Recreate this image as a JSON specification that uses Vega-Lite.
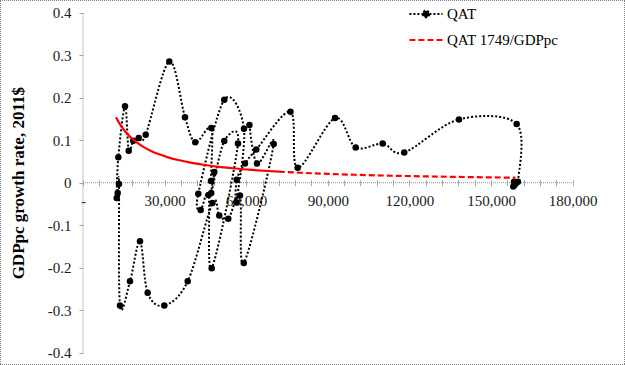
{
  "$schema": "https://vega.github.io/schema/vega-lite/v6.json",
  "width": 625,
  "height": 365,
  "autosize": {"type": "none"},
  "padding": 0,
  "background": "white",
  "config": {
    "view": {"stroke": "#7f7f7f", "strokeDash": [1, 1], "strokeWidth": 2},
    "font": "Liberation Serif",
    "axis": {"grid": false}
  },
  "datasets": {
    "qat": [
      {"i": 1, "g": 61200, "r": 0.136},
      {"i": 2, "g": 63960, "r": 0.045},
      {"i": 3, "g": 70100, "r": 0.091},
      {"i": 4, "g": 59110, "r": -0.189},
      {"i": 5, "g": 57710, "r": -0.030},
      {"i": 6, "g": 53410, "r": -0.085},
      {"i": 7, "g": 50100, "r": -0.077},
      {"i": 8, "g": 47600, "r": -0.048},
      {"i": 9, "g": 38490, "r": -0.232},
      {"i": 10, "g": 29890, "r": -0.289},
      {"i": 11, "g": 23780, "r": -0.259},
      {"i": 12, "g": 20950, "r": -0.138},
      {"i": 13, "g": 17280, "r": -0.232},
      {"i": 14, "g": 13600, "r": -0.289},
      {"i": 15, "g": 13230, "r": -0.003},
      {"i": 16, "g": 12760, "r": -0.024},
      {"i": 17, "g": 12390, "r": -0.036},
      {"i": 18, "g": 12980, "r": 0.060},
      {"i": 19, "g": 15440, "r": 0.180},
      {"i": 20, "g": 16800, "r": 0.075},
      {"i": 21, "g": 18490, "r": 0.099},
      {"i": 22, "g": 20480, "r": 0.105},
      {"i": 23, "g": 23050, "r": 0.113},
      {"i": 24, "g": 31720, "r": 0.285},
      {"i": 25, "g": 37500, "r": 0.154},
      {"i": 26, "g": 41280, "r": 0.095},
      {"i": 27, "g": 47160, "r": 0.129},
      {"i": 28, "g": 47050, "r": 0.004},
      {"i": 29, "g": 48270, "r": 0.025},
      {"i": 30, "g": 47160, "r": -0.024},
      {"i": 31, "g": 51940, "r": 0.098},
      {"i": 32, "g": 56980, "r": 0.092},
      {"i": 33, "g": 47310, "r": -0.201},
      {"i": 34, "g": 46170, "r": -0.029},
      {"i": 35, "g": 43270, "r": -0.064},
      {"i": 36, "g": 42380, "r": -0.026},
      {"i": 37, "g": 51940, "r": 0.195},
      {"i": 38, "g": 59180, "r": 0.127},
      {"i": 39, "g": 56350, "r": -0.046},
      {"i": 40, "g": 56500, "r": 0.007},
      {"i": 41, "g": 59550, "r": 0.045},
      {"i": 42, "g": 63700, "r": 0.078},
      {"i": 43, "g": 76280, "r": 0.167},
      {"i": 44, "g": 78920, "r": 0.035},
      {"i": 45, "g": 92640, "r": 0.152},
      {"i": 46, "g": 100250, "r": 0.083},
      {"i": 47, "g": 110170, "r": 0.092},
      {"i": 48, "g": 118110, "r": 0.071},
      {"i": 49, "g": 138220, "r": 0.149},
      {"i": 50, "g": 159430, "r": 0.138},
      {"i": 51, "g": 159900, "r": 0.002},
      {"i": 52, "g": 158440, "r": 0.002},
      {"i": 53, "g": 158180, "r": -0.009},
      {"i": 54, "g": 158700, "r": -0.005}
    ],
    "curveSolid": [
      {"g": 12130, "r": 0.1542},
      {"g": 13000, "r": 0.1438},
      {"g": 14000, "r": 0.1336},
      {"g": 15000, "r": 0.1247},
      {"g": 16500, "r": 0.1133},
      {"g": 18000, "r": 0.1039},
      {"g": 20000, "r": 0.0935},
      {"g": 22500, "r": 0.0831},
      {"g": 25000, "r": 0.0748},
      {"g": 28000, "r": 0.0668},
      {"g": 31000, "r": 0.0603},
      {"g": 35000, "r": 0.0534},
      {"g": 40000, "r": 0.0468},
      {"g": 45000, "r": 0.0416},
      {"g": 50000, "r": 0.0374},
      {"g": 56000, "r": 0.0334},
      {"g": 62000, "r": 0.0302},
      {"g": 68000, "r": 0.0275},
      {"g": 72000, "r": 0.0260}
    ],
    "curveDash": [
      {"g": 72000, "r": 0.0260},
      {"g": 80000, "r": 0.0234},
      {"g": 90000, "r": 0.0208},
      {"g": 100000, "r": 0.0187},
      {"g": 110000, "r": 0.0170},
      {"g": 120000, "r": 0.0156},
      {"g": 130000, "r": 0.0144},
      {"g": 140000, "r": 0.0134},
      {"g": 150000, "r": 0.0125},
      {"g": 159000, "r": 0.0118}
    ]
  },
  "resolve": {"axis": {"x": "independent"}},
  "layer": [
    {
      "data": {"values": [{"a": 1}]},
      "mark": {"type": "rule", "color": "#8c8c8c", "strokeWidth": 1, "strokeDash": [1, 1]},
      "encoding": {
        "x": {
          "datum": 0, "type": "quantitative",
          "scale": {"domain": [-30510, 199250], "nice": false, "zero": false},
          "axis": {
            "orient": "bottom", "offset": -182.3,
            "values": [0, 6000, 12000, 18000, 24000, 30000, 36000, 42000, 48000, 54000, 60000, 66000, 72000, 78000, 84000, 90000, 96000, 102000, 108000, 114000, 120000, 126000, 132000, 138000, 144000, 150000, 156000, 162000, 168000, 174000, 180000],
            "labelExpr": "datum.value % 30000 == 0 ? (datum.value == 0 ? '-' : format(datum.value, ',')) : ''",
            "domain": false, "ticks": true, "tickSize": 3, "tickColor": "#a6a6a6", "tickWidth": 1,
            "labelFont": "Liberation Serif", "labelFontSize": 15, "labelColor": "#1a1a1a",
            "labelPadding": 8, "labelOverlap": false, "labelFlush": false, "title": null
          }
        },
        "x2": {"datum": 180000},
        "y": {
          "datum": 0, "type": "quantitative",
          "scale": {"domain": [-0.4289, 0.4299], "nice": false, "zero": false},
          "axis": {
            "orient": "left", "offset": -83,
            "values": [-0.4, -0.3, -0.2, -0.1, 0, 0.1, 0.2, 0.3, 0.4],
            "labelExpr": "datum.value == 0 ? '0' : toString(round(datum.value * 10) / 10)",
            "domain": false, "tickSize": 4, "tickColor": "#a6a6a6", "tickWidth": 1,
            "labelFont": "Liberation Serif", "labelFontSize": 15, "labelColor": "#1a1a1a", "labelPadding": 8,
            "title": "GDPpc growth rate, 2011$",
            "titleFont": "Liberation Serif", "titleFontSize": 17, "titleFontWeight": "bold", "titleColor": "black",
            "titleX": -65, "titleY": 182.7, "titleAngle": -90, "titleAlign": "center", "titleBaseline": "middle"
          }
        }
      }
    },
    {
      "data": {"values": [{"a": 1}]},
      "mark": {"type": "rule", "color": "#8c8c8c", "strokeWidth": 1, "strokeDash": [1, 1]},
      "encoding": {
        "x": {
          "datum": 0, "type": "quantitative",
          "scale": {"domain": [-30510, 199250], "nice": false, "zero": false},
          "axis": {
            "orient": "top", "offset": -182.7,
            "values": [0, 6000, 12000, 18000, 24000, 30000, 36000, 42000, 48000, 54000, 60000, 66000, 72000, 78000, 84000, 90000, 96000, 102000, 108000, 114000, 120000, 126000, 132000, 138000, 144000, 150000, 156000, 162000, 168000, 174000, 180000],
            "labels": false, "domain": false, "tickSize": 3, "tickColor": "#a6a6a6", "tickWidth": 1, "title": null
          }
        },
        "y": {"datum": -0.4, "type": "quantitative"},
        "y2": {"datum": 0.4}
      }
    },
    {
      "data": {"name": "qat"},
      "mark": {"type": "line", "interpolate": "cardinal", "strokeWidth": 2, "strokeCap": "butt"},
      "encoding": {
        "x": {"field": "g", "type": "quantitative", "axis": null},
        "y": {"field": "r", "type": "quantitative"},
        "order": {"field": "i"},
        "color": {
          "datum": "QAT", "type": "nominal",
          "scale": {"domain": ["QAT", "QAT 1749/GDPpc"], "range": ["black", "#ff0000"]},
          "legend": {
            "orient": "none", "legendX": 408, "legendY": -4, "title": null,
            "symbolType": "stroke", "symbolSize": 1100, "symbolStrokeWidth": 2,
            "labelFont": "Liberation Serif", "labelFontSize": 15, "labelColor": "black",
            "labelOffset": 3, "rowPadding": 0
          }
        },
        "strokeDash": {
          "datum": "QAT", "type": "nominal",
          "scale": {"domain": ["QAT", "QAT 1749/GDPpc"], "range": [[2, 2], [6, 3]]}
        }
      }
    },
    {
      "data": {"values": []},
      "mark": {"type": "point", "filled": true, "opacity": 1},
      "encoding": {
        "x": {"field": "g", "type": "quantitative", "axis": null},
        "y": {"field": "r", "type": "quantitative"},
        "color": {"datum": "QAT", "type": "nominal"},
        "strokeDash": {"datum": "QAT", "type": "nominal"},
        "shape": {
          "datum": "QAT", "type": "nominal",
          "scale": {"domain": ["QAT", "QAT 1749/GDPpc"], "range": ["M-1,0H1M-0.2,0A0.2,0.2,0,1,0,0.2,0A0.2,0.2,0,1,0,-0.2,0Z", "M-1,0H1"]}
        }
      }
    },
    {
      "data": {"name": "qat"},
      "mark": {"type": "circle", "size": 42, "color": "black", "opacity": 1},
      "encoding": {
        "x": {"field": "g", "type": "quantitative", "axis": null},
        "y": {"field": "r", "type": "quantitative"}
      }
    },
    {
      "data": {"name": "curveSolid"},
      "mark": {"type": "line", "interpolate": "monotone", "strokeWidth": 2.2, "color": "#ff0000"},
      "encoding": {
        "x": {"field": "g", "type": "quantitative", "axis": null},
        "y": {"field": "r", "type": "quantitative"}
      }
    },
    {
      "data": {"name": "curveDash"},
      "mark": {"type": "line", "interpolate": "monotone", "strokeWidth": 2.2, "strokeCap": "butt"},
      "encoding": {
        "x": {"field": "g", "type": "quantitative", "axis": null},
        "y": {"field": "r", "type": "quantitative"},
        "color": {"datum": "QAT 1749/GDPpc", "type": "nominal"},
        "strokeDash": {"datum": "QAT 1749/GDPpc", "type": "nominal"}
      }
    }
  ]
}
